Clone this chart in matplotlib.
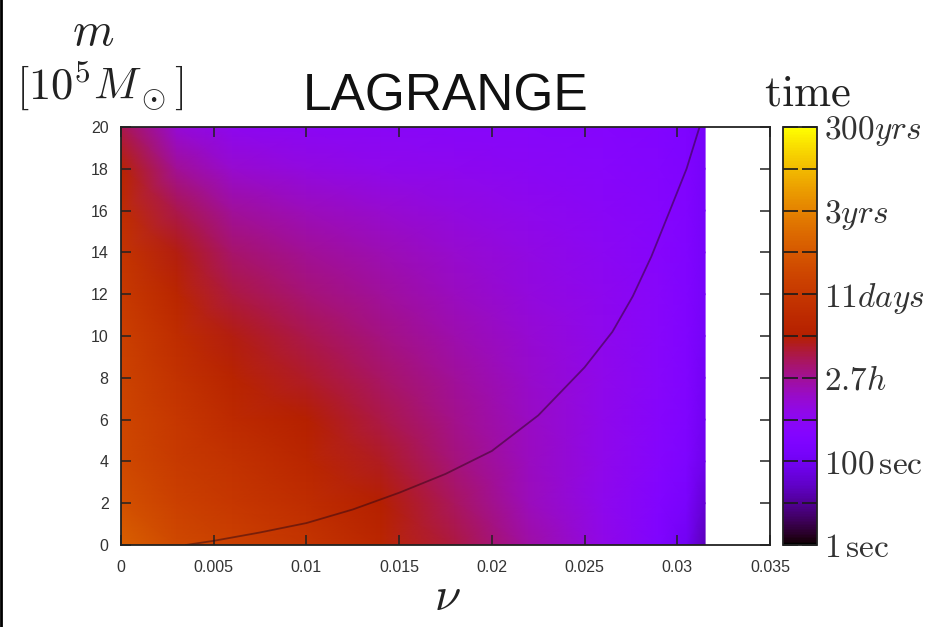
import numpy as np
import matplotlib
matplotlib.use('Agg')
import matplotlib.pyplot as plt
from matplotlib.lines import Line2D

plt.rcParams['mathtext.fontset'] = 'cm'
plt.rcParams['font.family'] = ['Liberation Sans', 'DejaVu Sans']

# ---- data (log10 of time in seconds) ----
nu = [0, 0.003, 0.006, 0.01, 0.014, 0.018, 0.022, 0.026, 0.029, 0.0305, 0.0315]
m = [0, 2, 4, 6, 8, 10, 12, 14, 16, 18, 20]
logt = [
    [7.2, 6.6, 6.3, 5.9, 5.3, 4.6, 3.9, 3.2, 2.5, 2.0, 1.3],      # m=0
    [6.8, 6.3, 6.0, 5.6, 5.0, 4.4, 3.7, 3.1, 2.6, 2.3, 1.6],      # m=2
    [6.6, 6.1, 5.8, 5.3, 4.8, 4.2, 3.65, 3.15, 2.7, 2.45, 1.9],   # m=4
    [6.5, 6.0, 5.5, 5.0, 4.55, 4.1, 3.6, 3.15, 2.75, 2.5, 2.0],   # m=6
    [6.4, 5.8, 5.2, 4.75, 4.35, 3.95, 3.55, 3.15, 2.8, 2.55, 2.1],# m=8
    [6.3, 5.6, 4.9, 4.5, 4.15, 3.8, 3.45, 3.1, 2.8, 2.55, 2.15],  # m=10
    [6.1, 5.3, 4.6, 4.25, 3.95, 3.65, 3.35, 3.05, 2.8, 2.55, 2.2],# m=12
    [5.9, 4.9, 4.3, 4.0, 3.75, 3.5, 3.25, 3.0, 2.75, 2.55, 2.2],  # m=14
    [5.6, 4.5, 3.95, 3.7, 3.5, 3.3, 3.1, 2.9, 2.7, 2.55, 2.2],    # m=16
    [5.2, 4.0, 3.5, 3.3, 3.15, 3.05, 2.95, 2.8, 2.65, 2.5, 2.2],  # m=18
    [4.5, 3.4, 3.05, 2.95, 2.9, 2.85, 2.8, 2.7, 2.6, 2.45, 2.2],  # m=20
]
curve_nu = [0.0035, 0.005, 0.0075, 0.01, 0.0125, 0.015, 0.0175, 0.02, 0.0225,
            0.025, 0.0265, 0.0276, 0.0286, 0.0296, 0.0305, 0.0312]
curve_m = [0.0, 0.2, 0.6, 1.05, 1.7, 2.5, 3.4, 4.5, 6.2,
           8.5, 10.2, 11.9, 13.8, 16.0, 18.0, 20.0]

xticks = [0, 0.005, 0.01, 0.015, 0.02, 0.025, 0.03, 0.035]
xticklabels = ['0', '0.005', '0.01', '0.015', '0.02', '0.025', '0.03', '0.035']
yticks = [0, 2, 4, 6, 8, 10, 12, 14, 16, 18, 20]
cb_ticks = [0, 1, 2, 3, 4, 5, 6, 7, 8, 9, 10]
cb_labels = [r'$1\,\mathrm{sec}$', '', r'$100\,\mathrm{sec}$', '', r'$2.7h$', '',
             r'$11days$', '', r'$3yrs$', '', r'$300yrs$']

W, H = 951, 627
fig = plt.figure(figsize=(W / 100, H / 100), dpi=100)
fig.patch.set_facecolor('white')

ax = fig.add_axes([121 / W, 82 / H, 649 / W, 418 / H])
NU, MM = np.meshgrid(nu, m)
mesh = ax.pcolormesh(NU, MM, np.array(logt), cmap='gnuplot', vmin=0, vmax=10,
                     shading='gouraud', rasterized=True)
ax.plot(curve_nu, curve_m, color='#2a0515', lw=1.3, alpha=0.5)
ax.set_xlim(0, 0.035)
ax.set_ylim(0, 20)
ax.set_xticks(xticks)
ax.set_xticklabels(xticklabels)
ax.set_yticks(yticks)
ax.tick_params(direction='in', top=True, right=True, length=7, width=1.1,
               color='#222222', labelsize=11.5, labelcolor='#333333')
ax.tick_params(axis='x', pad=11)
ax.tick_params(axis='y', pad=9)
for s in ax.spines.values():
    s.set_linewidth(1.3)
    s.set_color('#222222')
ax.set_title('LAGRANGE', fontsize=37, pad=12, color='#111111')

cax = fig.add_axes([783 / W, 82 / H, 34 / W, 418 / H])
cb = fig.colorbar(mesh, cax=cax, ticks=cb_ticks)
cb.set_ticklabels(cb_labels)
cax.tick_params(direction='in', left=True, right=True, length=11, width=1.2,
                color='#1a1a1a', labelsize=24, pad=5, labelcolor='#333333')
cb.outline.set_linewidth(1.3)
cb.outline.set_edgecolor('#222222')

fig.text(93 / W, 1 - 45 / H, r'$m$', fontsize=34, ha='center', va='baseline', color='#222222')
fig.text(100 / W, 1 - 100 / H, r'$[10^5M_\odot]$', fontsize=32, ha='center', va='baseline', color='#222222')
fig.text(808 / W, 1 - 105 / H, r'$\mathrm{time}$', fontsize=32, ha='center', va='baseline', color='#222222')
fig.text(447 / W, 1 - 610 / H, r'$\nu$', fontsize=34, ha='center', va='baseline', color='#222222')

fig.add_artist(Line2D([0.001, 0.001], [0, 1], color='black', lw=2, transform=fig.transFigure))

fig.savefig('out.png', dpi=100)
